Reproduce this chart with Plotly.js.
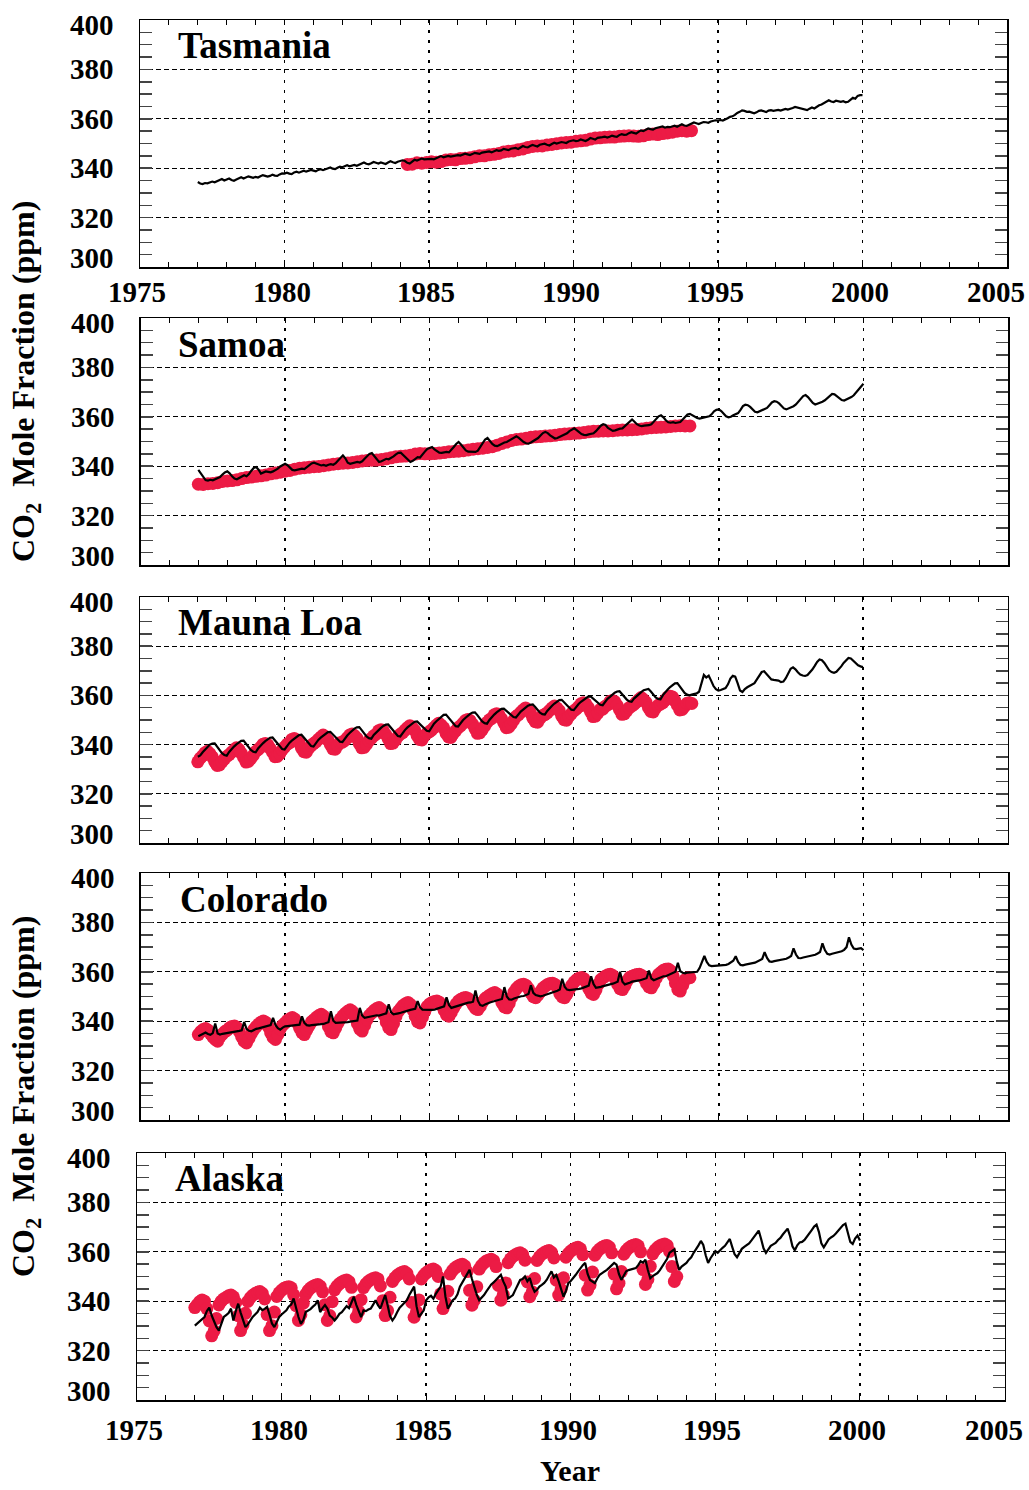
<!DOCTYPE html>
<html>
<head>
<meta charset="utf-8">
<script src="https://cdn.plot.ly/plotly-3.0.1.min.js"></script>
<style>
html, body { margin: 0; padding: 0; background: #fff; overflow: hidden; }
#chart { width: 1029px; height: 1490px; }
</style>
</head>
<body>
<div id="chart"></div>
<script>
// ---- data -------------------------------------------------------------
const stations = ['Tasmania', 'Samoa', 'Mauna Loa', 'Colorado', 'Alaska'];
const yearTicks = [1975, 1980, 1985, 1990, 1995, 2000, 2005];
const ppmTicks = [300, 320, 340, 360, 380, 400];

// Model CO2 (ppm), monthly from January 1977 to January 2000
const modelStart = 1977.0;
const modelStep = 1 / 12;

const tasmaniaModel = [
  334.4, 333.8, 333.6, 334.0, 333.9, 334.2, 334.6, 334.3, 334.7, 335.2, 335.6, 335.0,
  335.3, 335.8, 335.2, 334.9, 335.4, 335.9, 336.3, 335.8, 336.2, 336.7, 336.4, 336.1,
  336.5, 336.2, 336.7, 337.2, 336.9, 336.6, 336.9, 337.4, 337.0, 336.9, 337.5, 337.9,
  337.8, 338.2, 337.8, 337.6, 338.3, 338.6, 338.2, 338.5, 339.0, 338.6, 338.9, 339.3,
  339.0, 338.7, 339.3, 339.6, 339.2, 339.5, 340.0, 340.3, 339.8, 339.6, 340.2, 340.6,
  340.4, 340.9, 341.2, 340.8, 341.1, 341.3, 341.0, 341.4, 341.9, 342.3, 341.8, 341.6,
  342.0, 342.5, 342.2, 341.9, 342.3, 342.0, 341.7, 342.3, 342.8, 342.4, 342.1, 342.6,
  342.8, 343.2, 342.9, 342.2, 341.9, 342.6, 343.4, 343.1, 343.5, 343.9, 343.6, 343.7,
  344.0, 343.8, 343.6, 344.0, 344.6, 344.9, 344.4, 344.6, 345.0, 344.7, 344.9, 345.2,
  345.3, 345.1, 345.4, 345.9, 345.6, 345.3, 345.7, 346.2, 346.0, 345.8, 346.3, 346.5,
  346.5, 346.8, 346.4, 346.9, 347.3, 347.0, 347.2, 347.8, 347.5, 347.3, 347.9, 348.1,
  348.2, 347.8, 348.5, 349.0, 348.6, 348.4, 349.0, 349.4, 349.1, 348.8, 349.5, 349.8,
  349.9, 349.5, 349.2, 349.8, 350.3, 350.0, 350.2, 350.6, 350.4, 350.2, 350.8, 351.1,
  351.3, 351.0, 351.1, 351.6, 351.3, 351.0, 351.5, 352.2, 351.9, 351.6, 352.3, 352.6,
  352.6, 352.8, 352.4, 352.7, 353.2, 352.9, 352.7, 353.4, 353.8, 353.5, 353.6, 354.2,
  354.6, 354.3, 354.0, 354.7, 355.3, 355.0, 355.4, 356.1, 355.8, 355.6, 356.2, 356.5,
  356.6, 356.9, 356.4, 356.7, 356.6, 356.9, 357.2, 356.8, 357.4, 357.8, 357.3, 357.1,
  357.6, 357.9, 358.5, 358.2, 357.9, 358.3, 358.7, 358.6, 358.4, 358.9, 359.3, 359.4,
  359.3, 359.5, 359.3, 359.6, 360.2, 360.8, 361.0, 361.6, 362.4, 362.8, 363.4, 363.2,
  362.8, 362.9, 362.5, 362.2, 362.6, 363.2, 363.4, 363.1, 362.7, 363.3, 363.5, 363.2,
  363.4, 363.6, 363.3, 363.8, 364.0, 363.7, 363.9, 364.4, 364.8, 364.6, 364.3, 364.0,
  363.7, 363.5, 364.1, 364.6, 364.2, 364.9, 365.5, 365.8, 366.4, 366.9, 367.5, 367.0,
  366.8, 367.3, 367.0, 366.9, 367.1, 366.7, 366.9, 367.8, 368.5, 368.1, 369.3, 369.6,
  369.6
];

const samoaModel = [
  338.5, 337.2, 335.8, 334.4, 334.2, 334.5, 334.3, 334.7, 334.9, 335.6, 336.6, 337.5,
  337.9, 337.1, 335.9, 335.0, 334.7, 335.2, 335.8, 336.3, 335.9, 336.8, 338.2, 339.3,
  339.7, 338.6, 337.0, 337.4, 337.9, 337.7, 337.5, 337.9, 338.4, 339.0, 339.9, 340.6,
  341.0, 340.4, 339.3, 338.5, 338.3, 338.6, 338.9, 339.0, 338.8, 339.5, 340.5, 341.1,
  341.4, 341.0, 340.6, 340.3, 340.5, 340.2, 340.6, 340.8, 340.6, 341.2, 342.3, 343.6,
  344.4, 343.2, 341.4, 341.0, 341.3, 341.6, 341.7, 341.5, 342.0, 343.0, 344.2, 345.0,
  345.3, 344.0, 342.5, 341.7, 342.0, 342.5, 343.0, 342.8, 343.3, 344.0, 344.8, 345.4,
  345.5, 344.6, 343.4, 342.4, 341.7, 342.2, 343.0, 343.7, 343.5, 344.5, 345.9, 347.0,
  347.5, 347.8, 346.8, 346.0, 345.5, 345.4, 345.7, 345.8, 345.6, 346.5, 347.8, 349.0,
  349.8, 348.8, 347.4, 346.4, 345.9, 345.8, 345.9, 345.8, 346.3, 347.8, 349.6, 350.8,
  351.4, 350.2, 349.0, 348.3, 348.1, 348.6, 349.2, 349.6, 349.8, 350.4, 351.1, 351.8,
  352.1, 351.5, 350.6, 349.8, 349.3, 349.1, 349.6, 350.2, 350.5, 351.4, 352.4, 353.4,
  353.9, 353.4, 352.5, 351.7, 351.2, 351.4, 351.9, 352.3, 352.6, 353.3, 354.2, 354.9,
  355.3, 354.6, 353.7, 353.0, 352.7, 352.6, 352.9, 353.2, 353.3, 354.2, 355.4, 356.4,
  357.0, 356.7, 355.5, 354.8, 354.3, 354.5, 354.9, 355.2, 355.3, 356.2, 357.4, 358.3,
  358.9, 358.0, 357.0, 356.5, 356.2, 356.4, 356.5, 356.6, 357.0, 358.2, 359.4, 360.2,
  360.6, 359.8, 358.6, 357.8, 357.6, 357.8, 357.5, 357.6, 357.9, 358.9, 360.1, 360.9,
  361.2, 360.6, 360.0, 359.5, 359.3, 359.6, 359.9, 360.0, 360.2, 361.0, 362.2, 362.8,
  363.0, 362.3, 361.0, 360.2, 359.8, 360.0, 360.6, 360.9, 361.5, 362.8, 364.3, 364.9,
  364.7, 364.0, 362.8, 362.0, 361.8, 362.2, 362.5, 362.9, 363.6, 364.7, 365.8, 366.3,
  366.1, 365.4, 364.2, 363.4, 363.0, 363.4, 363.8, 364.3, 365.0, 366.2, 367.5, 368.4,
  368.8, 368.0, 366.8, 365.6, 365.0, 365.3, 365.6, 366.1, 366.7, 367.5, 368.6, 369.3,
  369.1, 368.4, 367.5, 366.8, 366.6, 367.0, 367.5, 368.0, 368.7, 369.8, 371.0, 372.2,
  373.4
];

const maunaLoaModel = [
  335.1, 335.6, 336.9, 338.0, 339.2, 340.0, 340.4, 340.5, 339.2, 337.8, 336.5, 335.8,
  335.5, 337.0, 338.2, 339.2, 340.1, 341.0, 341.5, 341.6, 340.4, 339.0, 337.8, 337.1,
  336.9, 338.4, 339.6, 340.5, 341.4, 342.3, 342.8, 342.9, 341.7, 340.2, 339.0, 338.2,
  338.0, 339.5, 340.7, 341.6, 342.5, 343.4, 343.9, 344.0, 342.8, 341.4, 340.2, 339.4,
  339.2, 340.7, 341.9, 342.8, 343.7, 344.6, 345.1, 345.2, 344.2, 342.9, 341.8, 341.2,
  341.0, 342.5, 343.7, 344.7, 345.6, 346.5, 347.0, 347.1, 345.9, 344.5, 343.3, 342.6,
  342.4, 343.9, 345.0, 345.9, 346.8, 347.6, 348.1, 348.2, 347.0, 345.5, 344.3, 343.5,
  343.3, 344.8, 346.0, 347.0, 347.9, 348.8, 349.3, 349.4, 348.4, 347.2, 346.2, 345.6,
  345.4, 347.1, 348.5, 349.5, 350.5, 351.5, 352.1, 352.2, 351.0, 349.5, 348.3, 347.5,
  347.3, 348.8, 349.9, 350.8, 351.7, 352.5, 353.0, 353.1, 352.0, 350.6, 349.4, 348.7,
  348.5, 350.0, 351.2, 352.2, 353.1, 354.0, 354.5, 354.6, 353.7, 352.6, 351.7, 351.2,
  351.0, 352.3, 353.4, 354.2, 355.0, 355.8, 356.2, 356.3, 355.3, 354.0, 353.0, 352.4,
  352.2, 353.7, 354.9, 355.8, 356.7, 357.6, 358.1, 358.2, 357.2, 355.9, 354.8, 354.2,
  354.0, 355.4, 356.5, 357.4, 358.2, 359.0, 359.5, 359.6, 358.7, 357.6, 356.7, 356.2,
  356.0, 357.4, 358.6, 359.4, 360.3, 361.1, 361.6, 361.7, 360.6, 359.3, 358.3, 357.6,
  357.4, 358.7, 359.7, 360.5, 361.3, 362.1, 362.5, 362.6, 361.6, 360.3, 359.2, 358.6,
  358.4, 360.1, 361.4, 362.4, 363.4, 364.3, 364.9, 365.0, 363.8, 362.3, 361.0, 360.3,
  360.0, 360.3, 360.6, 360.8, 361.5, 365.0, 368.3, 367.3, 368.0, 366.0, 363.8, 362.5,
  362.0, 362.2, 362.6, 363.0, 364.5, 366.8, 368.0, 367.6, 365.0, 362.0, 361.4, 362.6,
  363.3, 363.8, 364.3, 365.0, 366.5, 368.3, 369.5, 369.8, 368.8, 367.4, 366.5, 366.3,
  366.3, 366.0, 365.4, 365.6, 367.0, 369.2, 370.8, 371.4, 370.6, 369.4, 368.5, 368.1,
  367.9, 368.3, 369.2, 370.5, 372.0, 373.6, 374.6, 374.3, 373.2, 371.5, 370.2, 369.5,
  369.2, 369.6, 370.5, 371.8, 373.2, 374.4, 375.2, 375.0, 374.0, 372.8, 372.2, 371.8,
  371.5
];

const coloradoModel = [
  333.9, 334.4, 335.0, 335.4, 334.8, 334.5, 335.2, 339.1, 335.0, 334.6, 334.9, 335.1,
  335.3, 335.6, 335.8, 335.9, 336.0, 336.1, 336.3, 339.7, 336.9, 336.1, 335.9, 336.5,
  336.9, 337.1, 337.3, 337.6, 337.9, 338.2, 338.4, 341.4, 338.5, 337.2, 336.6, 337.4,
  337.9, 338.0, 338.1, 338.2, 338.2, 338.4, 338.6, 342.0, 339.3, 338.4, 338.2, 338.4,
  338.5, 338.6, 338.7, 338.6, 338.9, 339.3, 339.6, 344.0, 340.2, 339.3, 339.3, 339.4,
  339.3, 339.5, 339.6, 339.8, 340.0, 340.2, 340.3, 345.4, 342.3, 341.4, 341.6, 341.9,
  342.0, 342.2, 342.4, 342.3, 342.6, 342.8, 343.2, 346.8, 343.6, 342.8, 342.9, 343.2,
  343.4, 343.6, 343.9, 344.3, 344.6, 344.8, 345.0, 348.1, 345.6, 344.7, 344.6, 344.6,
  344.7, 344.6, 344.7, 345.0, 345.4, 345.8, 346.0, 349.7, 346.6, 345.4, 345.7, 346.2,
  346.5, 346.7, 346.8, 347.2, 347.5, 347.6, 347.9, 352.4, 348.3, 346.5, 346.2, 346.8,
  347.3, 347.6, 347.9, 348.1, 348.3, 348.6, 349.0, 353.8, 350.0, 348.8, 348.7, 349.2,
  349.6, 349.9, 350.1, 350.2, 350.6, 351.0, 354.5, 351.5, 350.6, 350.3, 350.1, 350.3,
  350.6, 350.9, 351.2, 351.5, 351.9, 352.3, 352.8, 357.2, 354.0, 352.8, 352.6, 352.8,
  352.9, 353.0, 353.1, 353.3, 353.6, 354.0, 354.4, 358.2, 355.0, 353.5, 353.6, 353.9,
  354.2, 354.4, 354.5, 354.8, 355.2, 355.6, 356.0, 360.0, 356.0, 354.9, 355.1, 355.6,
  356.0, 356.1, 356.2, 356.5, 356.8, 357.1, 357.4, 360.5, 357.3, 356.6, 357.0, 357.6,
  358.0, 358.2, 358.2, 358.6, 359.0, 359.5, 360.0, 363.6, 360.2, 359.6, 359.4, 359.7,
  359.8, 359.8, 359.9, 360.0, 361.5, 363.8, 366.4, 364.0, 362.6, 362.3, 362.4, 362.5,
  362.6, 362.5, 362.6, 362.8, 363.2, 363.8, 364.5, 366.3, 364.0, 362.8, 362.6, 362.9,
  363.2, 363.4, 363.5, 363.7, 364.1, 364.6, 365.2, 368.0, 365.6, 364.2, 364.0, 364.3,
  364.5, 364.6, 364.7, 364.9, 365.3, 365.8, 366.4, 369.5, 367.0, 365.6, 365.5, 365.8,
  366.0, 366.1, 366.3, 366.5, 366.9, 367.4, 368.0, 371.5, 368.8, 367.3, 367.0, 367.3,
  367.5, 367.7, 367.9, 368.3, 368.9, 370.0, 374.0, 371.0, 369.4, 369.2, 369.4, 369.6,
  368.8
];

const alaskaModel = [
  330.1, 331.0, 332.0, 332.8, 333.6, 336.0, 337.4, 334.2, 331.4, 329.5, 328.1, 331.0,
  333.6, 334.4, 335.2, 337.0, 332.2, 336.0, 339.0, 335.4, 332.2, 329.5, 330.6, 332.2,
  333.6, 334.6, 335.6, 337.4, 336.4, 336.9, 337.7, 334.5, 331.0, 329.5, 331.8, 333.6,
  334.6, 335.4, 336.3, 337.9, 338.6, 341.1, 337.2, 333.6, 330.8, 332.4, 335.6, 336.2,
  336.8, 337.8, 338.6, 340.4, 335.6, 337.2, 338.4, 337.0, 334.2, 333.4, 332.2, 333.4,
  334.9, 335.6, 336.8, 338.0, 337.2, 339.6, 341.8, 338.5, 336.0, 333.6, 336.3, 336.0,
  336.6, 337.0, 338.6, 340.4, 338.4, 337.0, 339.8, 342.5, 338.4, 334.0, 332.2, 333.6,
  335.6, 337.4, 338.4, 339.4, 340.4, 342.5, 344.2, 345.9, 338.0, 333.6, 335.0, 336.3,
  340.4, 341.6, 342.2, 341.0, 343.0, 344.6, 345.9, 350.0, 341.8, 337.0, 339.0, 340.4,
  341.1, 342.8, 345.9, 347.5, 349.3, 350.8, 352.7, 349.0, 345.2, 342.6, 340.4, 341.4,
  342.5, 344.0, 345.6, 346.8, 347.6, 348.6, 349.4, 350.7, 348.0, 345.9, 341.1, 341.8,
  342.5, 344.6, 346.6, 348.6, 349.0, 350.0, 348.0, 349.4, 346.0, 343.8, 344.6, 345.9,
  346.6, 347.4, 348.6, 350.2, 352.1, 349.6, 350.6, 348.0, 344.6, 341.8, 344.2, 347.3,
  348.2, 349.3, 350.6, 352.0, 353.4, 354.6, 355.5, 351.0, 348.6, 348.0, 347.3, 349.2,
  350.7, 351.4, 352.0, 352.7, 353.6, 354.6, 355.5, 354.8, 351.0, 348.6, 350.4, 352.1,
  352.6, 352.9, 353.2, 353.4, 354.6, 356.2, 355.6, 356.8, 352.6, 349.3, 350.2, 350.8,
  351.4, 352.6, 354.1, 355.6, 357.2, 359.6, 360.2, 361.0, 356.0, 352.7, 354.0, 354.8,
  355.5, 356.8, 357.8, 359.6, 361.0, 362.6, 364.4, 362.8, 358.6, 355.5, 357.4, 359.0,
  360.3, 359.6, 360.8, 361.6, 362.4, 363.6, 365.2, 362.0, 359.0, 357.8, 359.6, 361.2,
  362.0, 362.8, 363.4, 364.6, 366.0, 367.6, 368.6, 365.2, 361.4, 359.6, 360.8, 362.4,
  363.0, 363.6, 364.8, 365.6, 367.0, 368.4, 369.4, 366.4, 362.2, 360.6, 362.6, 363.8,
  364.0, 364.8, 366.0, 367.6, 368.8, 370.2, 371.0, 368.0, 363.4, 361.8, 363.6, 365.0,
  365.8, 366.4, 367.4, 368.6, 369.8, 370.8, 371.4, 367.6, 364.0, 363.2, 365.4, 366.6,
  364.6
];

// Observed CO2 (ppm): start year and sampling step for each record
const tasmaniaObsStart = 1984.25;
const tasmaniaObsStep = 1 / 6;
const tasmaniaObs = [
  341.5, 341.6, 342.2, 342.0, 342.3,
  342.6, 342.4, 342.7, 343.3, 343.5, 343.4,
  343.9, 344.0, 344.2, 344.6, 345.0, 345.0,
  345.4, 345.6, 346.0, 346.6, 346.9, 347.0,
  347.5, 347.8, 348.4, 348.8, 349.0, 349.0,
  349.4, 349.6, 349.9, 350.2, 350.4, 350.5,
  350.9, 351.1, 351.3, 351.8, 352.2, 352.3,
  352.5, 352.6, 352.6, 352.9, 353.0, 353.1,
  353.0, 352.9, 353.1, 353.6, 353.8, 353.6,
  354.0, 354.3, 354.6, 355.0, 355.2, 355.0,
  355.2
];

const samoaObsStart = 1977.0;
const samoaObsStep = 1 / 6;
const samoaObs = [
  332.7, 332.6, 332.9, 333.0, 333.3, 333.8,
  334.0, 334.2, 334.5, 335.0, 335.4, 335.6,
  335.9, 336.1, 336.4, 336.9, 337.2, 337.6,
  338.0, 338.3, 338.8, 339.2, 339.4, 339.6,
  339.8, 339.9, 340.2, 340.5, 340.8, 341.0,
  341.2, 341.3, 341.5, 341.8, 342.1, 342.3,
  342.4, 342.5, 342.7, 343.0, 343.4, 343.8,
  344.0, 344.1, 344.4, 344.9, 345.1, 345.0,
  345.0, 345.1, 345.3, 345.5, 345.8, 346.0,
  346.1, 346.3, 346.6, 346.9, 347.1, 347.3,
  347.6, 347.9, 348.5, 349.2, 349.8, 350.4,
  350.8, 351.0, 351.3, 351.7, 351.9, 352.0,
  352.2, 352.3, 352.5, 352.8, 353.0, 353.1,
  353.3, 353.4, 353.6, 353.9, 354.1, 354.2,
  354.3, 354.3, 354.4, 354.6, 354.7, 354.7,
  354.8, 354.9, 355.1, 355.4, 355.6, 355.7,
  355.8, 355.9, 356.1, 356.3, 356.4, 356.3,
  356.3
];

const maunaLoaObsStart = 1977.0;
const maunaLoaObsStep = 1 / 12;
const maunaLoaObs = [
  333.0, 334.5, 335.5, 336.7, 337.3, 336.3, 335.0, 333.1, 331.5, 331.7, 333.0, 334.1,
  335.2, 335.9, 336.9, 337.8, 338.7, 338.1, 336.5, 334.8, 332.9, 333.2, 334.3, 335.6,
  337.2, 337.9, 338.9, 340.1, 340.4, 340.0, 338.5, 336.9, 335.1, 335.2, 336.3, 337.8,
  339.0, 340.1, 340.7, 342.1, 342.5, 341.9, 340.8, 338.6, 337.1, 336.9, 338.5, 339.6,
  340.4, 341.1, 342.1, 343.0, 343.9, 343.1, 341.8, 340.0, 338.3, 338.1, 339.7, 340.8,
  341.0, 341.7, 342.7, 343.9, 344.3, 343.7, 342.6, 340.4, 338.7, 338.9, 340.1, 341.6,
  342.5, 343.6, 344.2, 345.6, 346.0, 345.6, 344.1, 342.3, 340.4, 340.6, 341.8, 343.3,
  344.2, 344.9, 345.9, 346.9, 347.7, 346.9, 345.8, 343.6, 342.1, 341.9, 343.5, 344.6,
  345.2, 345.9, 346.9, 347.9, 348.7, 347.9, 346.8, 344.6, 343.1, 342.9, 344.5, 345.6,
  346.9, 347.6, 348.6, 349.8, 350.2, 349.8, 348.3, 346.5, 344.6, 344.8, 346.0, 347.5,
  349.0, 350.1, 350.7, 352.1, 352.5, 352.1, 350.6, 348.8, 346.9, 347.1, 348.3, 349.8,
  351.4, 352.1, 353.1, 354.1, 354.9, 354.1, 353.0, 350.8, 349.3, 349.1, 350.7, 351.8,
  352.2, 352.9, 353.9, 354.9, 355.7, 354.9, 353.8, 351.6, 350.1, 349.9, 351.5, 352.6,
  353.7, 354.4, 355.4, 356.6, 357.0, 356.6, 355.1, 353.3, 351.4, 351.6, 352.8, 354.3,
  354.4, 355.5, 356.1, 357.5, 357.9, 357.5, 356.0, 354.2, 352.3, 352.5, 353.7, 355.0,
  355.6, 356.3, 357.3, 358.3, 359.1, 358.3, 357.2, 355.0, 353.5, 353.3, 354.9, 356.0,
  356.4, 357.1, 358.1, 359.3, 359.7, 359.3, 357.8, 356.0, 354.1, 354.3, 355.5, 356.8,
  357.0, 356.7
];

const coloradoObsStart = 1977.0;
const coloradoObsStep = 1 / 12;
const coloradoObs = [
  334.6, 335.8, 336.6, 337.0, 336.4, 335.0, 333.6, 332.6, 331.9, 333.6, 334.8, 335.8,
  336.4, 337.3, 337.9, 338.1, 337.4, 335.8, 333.6, 331.9, 331.2, 333.0, 335.0, 336.6,
  337.8, 338.8, 339.6, 340.1, 339.5, 337.8, 335.3, 333.4, 332.6, 334.6, 336.8, 338.4,
  339.3, 340.3, 341.0, 341.5, 340.9, 339.4, 337.2, 335.4, 334.6, 336.4, 338.2, 339.8,
  340.6, 341.6, 342.3, 342.8, 342.1, 340.4, 337.8, 335.8, 335.3, 337.2, 339.3, 341.0,
  342.2, 343.2, 344.0, 344.6, 343.9, 341.8, 339.0, 336.8, 336.0, 338.3, 340.6, 342.4,
  343.4, 344.4, 345.1, 345.5, 344.7, 342.6, 339.6, 337.4, 336.6, 339.0, 341.8, 344.0,
  345.2, 346.4, 347.1, 347.6, 346.8, 344.6, 342.0, 339.8, 339.3, 341.6, 344.0, 346.0,
  347.0, 347.6, 348.0, 348.2, 347.7, 346.4, 344.4, 342.6, 342.0, 343.6, 345.4, 347.0,
  348.2, 348.9, 349.4, 349.6, 349.2, 348.2, 346.6, 345.2, 344.7, 346.0, 347.8, 349.2,
  349.9, 350.6, 351.2, 351.6, 351.0, 349.6, 347.4, 345.8, 345.4, 347.2, 349.6, 351.8,
  353.2, 354.2, 354.8, 355.0, 354.5, 353.2, 351.4, 349.9, 349.5, 350.6, 352.0, 353.4,
  354.2, 354.9, 355.3, 355.4, 354.9, 353.4, 351.2, 349.8, 349.5, 351.0, 353.0, 354.6,
  355.9, 356.8, 357.4, 357.7, 357.2, 355.6, 353.2, 351.4, 350.8, 352.6, 355.0, 356.8,
  357.6, 358.3, 358.8, 359.0, 358.5, 357.1, 354.9, 353.2, 352.8, 354.4, 356.4, 357.8,
  358.2, 358.6, 358.9, 359.0, 358.5, 357.2, 355.3, 353.9, 353.5, 355.2, 357.4, 359.0,
  359.8, 360.6, 361.0, 361.1, 360.4, 358.4, 355.4, 352.8, 352.2, 354.6, 356.8, 357.6,
  357.6
];

const alaskaObsStart = 1977.0;
const alaskaObsStep = 1 / 12;
const alaskaObs = [
  337.4, 338.6, 339.8, 340.5, 340.0, 337.0, 332.0, 326.0, 328.0, 333.0, 338.5, 340.0,
  341.0, 341.5, 342.2, 342.5, 341.8, 339.5, 334.1, 328.1, 330.4, 335.1, 339.9, 341.4,
  342.4, 343.1, 343.6, 343.9, 343.2, 340.9, 334.6, 328.1, 330.1, 335.6, 341.9, 343.4,
  344.4, 345.2, 345.6, 345.9, 345.4, 342.6, 338.2, 332.2, 334.5, 339.2, 342.8, 344.3,
  345.3, 346.0, 346.5, 346.8, 346.1, 343.8, 338.6, 332.2, 334.2, 339.8, 344.6, 346.1,
  347.1, 347.8, 348.3, 348.6, 347.9, 345.6, 339.6, 333.6, 335.9, 340.6, 345.5, 347.0,
  348.0, 348.7, 349.2, 349.5, 349.0, 346.2, 340.2, 334.2, 336.2, 341.6, 348.0, 349.5,
  350.5, 351.2, 351.7, 352.0, 351.3, 349.0, 339.5, 333.5, 335.8, 340.5, 349.0, 350.5,
  351.5, 352.2, 352.7, 353.0, 352.4, 350.0, 343.0, 337.0, 339.3, 344.0, 351.0, 352.5,
  353.5, 354.2, 354.7, 355.0, 354.3, 352.0, 344.4, 338.4, 340.4, 345.9, 353.0, 354.5,
  355.5, 356.3, 356.7, 357.0, 356.4, 354.0, 346.4, 340.4, 342.7, 347.4, 355.6, 357.1,
  358.1, 358.8, 359.3, 359.6, 359.0, 356.6, 347.8, 341.8, 343.8, 349.2, 356.5, 358.0,
  359.0, 359.7, 360.2, 360.5, 359.8, 357.5, 348.5, 342.5, 344.8, 349.5, 357.8, 359.3,
  360.3, 361.0, 361.5, 361.8, 361.2, 358.8, 350.5, 344.5, 346.5, 351.8, 358.6, 360.1,
  361.1, 361.8, 362.3, 362.6, 361.9, 359.6, 351.0, 345.0, 347.3, 352.0, 359.0, 360.5,
  361.5, 362.2, 362.7, 363.0, 362.4, 360.0, 352.8, 346.8, 348.8, 354.1, 359.2, 360.7,
  361.7, 362.4, 362.9, 363.2, 362.6, 360.2, 354.0, 348.0, 350.0
];

// ---- layout geometry (pixels) -----------------------------------------
const W = 1029, H = 1490;
const panelRows = [[20, 267], [318, 565], [597, 843], [873, 1120], [1153, 1400]];
const panelCols = [[140, 1007], [140.5, 1008], [140, 1007.5], [140.5, 1008], [137, 1004.5]];
const titleAt = [[176, 45], [176, 345], [176, 622], [178, 899], [173, 1178]];
const yearLabelRows = { 0: 292, 4: 1430 };   // centre line of the year labels

const FONT = "'Liberation Serif', 'Times New Roman', Times, serif";
const RED = '#EC1B45';

const records = [
  { model: tasmaniaModel, obs: tasmaniaObs, obsStart: tasmaniaObsStart, obsStep: tasmaniaObsStep },
  { model: samoaModel, obs: samoaObs, obsStart: samoaObsStart, obsStep: samoaObsStep },
  { model: maunaLoaModel, obs: maunaLoaObs, obsStart: maunaLoaObsStart, obsStep: maunaLoaObsStep },
  { model: coloradoModel, obs: coloradoObs, obsStart: coloradoObsStart, obsStep: coloradoObsStep },
  { model: alaskaModel, obs: alaskaObs, obsStart: alaskaObsStart, obsStep: alaskaObsStep }
];

const timeAxis = (start, step, n) => Array.from({ length: n }, (_, i) => +(start + i * step).toFixed(4));

const traces = [];
const layout = {
  width: W, height: H,
  margin: { l: 0, r: 0, t: 0, b: 0 },
  paper_bgcolor: '#fff', plot_bgcolor: '#fff',
  showlegend: false,
  font: { family: FONT, color: '#000' },
  annotations: []
};

const labelFont = { family: FONT, size: 29, weight: 'bold', color: '#000' };

records.forEach((rec, k) => {
  const n = k + 1;
  const xa = 'x' + (n === 1 ? '' : n);
  const ya = 'y' + (n === 1 ? '' : n);

  traces.push({
    type: 'scatter', mode: 'markers', xaxis: xa, yaxis: ya,
    x: timeAxis(rec.obsStart, rec.obsStep, rec.obs.length), y: rec.obs,
    marker: { color: RED, size: 13, line: { width: 0 } },
    hoverinfo: 'skip'
  });
  traces.push({
    type: 'scatter', mode: 'lines', xaxis: xa, yaxis: ya,
    x: timeAxis(modelStart, modelStep, rec.model.length), y: rec.model,
    line: { color: '#000', width: 2.2 },
    hoverinfo: 'skip'
  });

  const [top, bot] = panelRows[k];
  const [lft, rgt] = panelCols[k];

  layout['xaxis' + (n === 1 ? '' : n)] = {
    domain: [lft / W, rgt / W], anchor: ya,
    range: [1975, 2005], tickvals: yearTicks, showticklabels: false,
    ticks: 'inside', ticklen: 5, tickwidth: 1, tickcolor: '#000',
    minor: { dtick: 1, tick0: 1975, ticks: 'inside', ticklen: 5, tickwidth: 1, tickcolor: '#000', showgrid: false },
    showgrid: true, gridcolor: '#000', gridwidth: 1.4, griddash: '3px,7px',
    showline: true, linecolor: '#000', linewidth: 1.5, mirror: 'ticks',
    zeroline: false, fixedrange: true
  };
  layout['yaxis' + (n === 1 ? '' : n)] = {
    domain: [1 - bot / H, 1 - top / H], anchor: xa,
    range: [300, 400], tickvals: ppmTicks, showticklabels: false,
    ticks: 'inside', ticklen: 12, tickwidth: 1.5, tickcolor: '#444',
    minor: { dtick: 5, tick0: 300, ticks: 'inside', ticklen: 12, tickwidth: 1.5, tickcolor: '#444', showgrid: false },
    showgrid: true, gridcolor: '#000', gridwidth: 1, griddash: '5px,3px',
    showline: true, linecolor: '#000', linewidth: 1.5, mirror: 'ticks',
    zeroline: false, fixedrange: true
  };

  // ppm labels, the end labels tucked inside the frame
  ppmTicks.forEach(v => {
    layout.annotations.push({
      xref: 'paper', yref: ya, x: (lft - 24) / W, y: v,
      xanchor: 'right', yanchor: 'middle', showarrow: false,
      yshift: v === 400 ? -5 : (v === 300 ? 9 : 0),
      text: String(v), font: labelFont
    });
  });

  // year labels under the top and bottom panels
  if (k in yearLabelRows) {
    yearTicks.forEach(yr => {
      layout.annotations.push({
        xref: xa, yref: 'paper', x: yr, y: 1 - yearLabelRows[k] / H,
        xanchor: 'center', yanchor: 'middle', showarrow: false,
        xshift: yr === 2005 ? -11 : -3,
        text: String(yr), font: labelFont
      });
    });
  }

  // station name
  layout.annotations.push({
    xref: 'paper', yref: 'paper',
    x: titleAt[k][0] / W, y: 1 - titleAt[k][1] / H,
    xanchor: 'left', yanchor: 'middle', showarrow: false,
    text: stations[k],
    font: { family: FONT, size: 37, weight: 'bold', color: '#000' }
  });
});

// shared axis titles
const yTitle = 'CO<sub>2</sub>  Mole Fraction (ppm)';
[382, 1097].forEach(cy => {
  layout.annotations.push({
    xref: 'paper', yref: 'paper', x: 25 / W, y: 1 - cy / H,
    xanchor: 'center', yanchor: 'middle', showarrow: false, textangle: -90,
    text: yTitle,
    font: { family: FONT, size: 32, weight: 'bold', color: '#000' }
  });
});
layout.annotations.push({
  xref: 'paper', yref: 'paper', x: 570 / W, y: 1 - 1470 / H,
  xanchor: 'center', yanchor: 'middle', showarrow: false,
  text: 'Year',
  font: { family: FONT, size: 30, weight: 'bold', color: '#000' }
});

Plotly.newPlot('chart', traces, layout, { staticPlot: true, displayModeBar: false });
</script>
</body>
</html>
